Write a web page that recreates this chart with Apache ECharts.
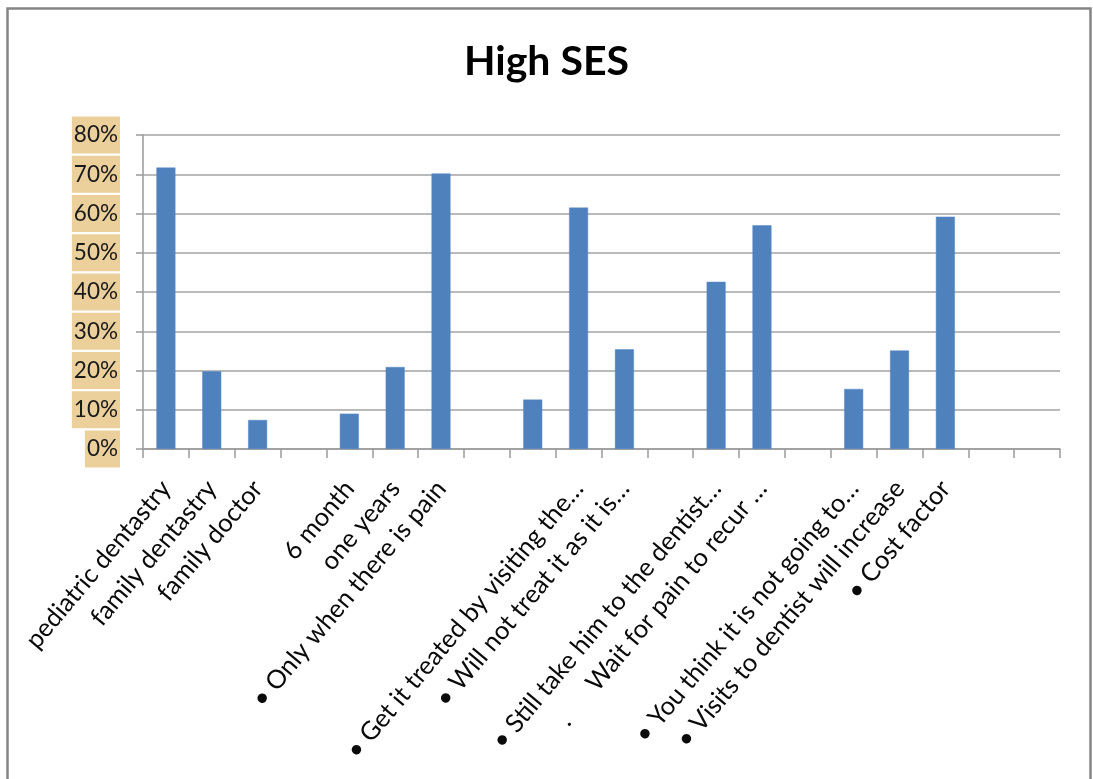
<!DOCTYPE html>
<html>
<head>
<meta charset="utf-8">
<title>High SES</title>
<script src="https://cdn.jsdelivr.net/npm/echarts@6/dist/echarts.min.js"></script>
<style>
  html, body { margin: 0; padding: 0; background: #ffffff; }
  #chart { width: 1093px; height: 779px; }
</style>
</head>
<body>
<div id="chart"></div>
<script>
// Answer categories (blank slots separate the question groups)
const categories = [
  'pediatric dentastry',
  'family dentastry',
  'family doctor',
  '',
  '6 month',
  'one years',
  '\u2022 Only when there is pain',
  '',
  '',
  '\u2022 Get it treated by visiting the\u2026',
  '\u2022 Will not treat it as it is\u2026',
  '',
  '\u2022 Still take him to the dentist\u2026',
  '.      Wait for pain to recur \u2026',
  '',
  '\u2022 You think it is not going to\u2026',
  '\u2022 Visits to dentist will increase',
  '\u2022 Cost factor',
  '',
  ''
];

// Share of respondents, percent
const values = [
  71.7, 19.8, 7.4, null,
  9.0, 20.9, 70.2, null,
  12.6, 61.5, 25.4, null,
  42.6, 57.0, null,
  15.3, 25.1, 59.2, null, null
];

// Value axis ticks
const yMin = 0;
const yMax = 80;
const yStep = 10;

const chart = echarts.init(document.getElementById('chart'), null, { renderer: 'canvas' });

chart.setOption({
  animation: false,
  backgroundColor: '#ffffff',
  title: {
    text: 'High SES',
    left: 'center',
    top: 36,
    textStyle: {
      fontFamily: 'Lato',
      fontWeight: 'bold',
      fontSize: 41,
      color: '#000000'
    }
  },
  graphic: [
    {
      type: 'rect',
      left: 5,
      top: 6,
      shape: { width: 1083, height: 820 },
      style: { fill: 'none', stroke: '#858585', lineWidth: 2.5 },
      silent: true
    }
  ],
  grid: {
    left: 143,
    top: 135,
    width: 917,
    height: 314,
    containLabel: false
  },
  xAxis: {
    type: 'category',
    data: categories,
    boundaryGap: true,
    axisLine: { show: true, lineStyle: { color: '#9a9a9a', width: 1.5 } },
    axisTick: { show: true, length: 9, lineStyle: { color: '#9a9a9a', width: 1.5 } },
    axisLabel: {
      interval: 0,
      rotate: 50,
      margin: 35,
      fontFamily: 'Lato',
      fontSize: 25.5,
      color: '#0a0a0a'
    },
    splitLine: { show: false }
  },
  yAxis: {
    type: 'value',
    min: yMin,
    max: yMax,
    interval: yStep,
    axisLine: { show: true, lineStyle: { color: '#9a9a9a', width: 1.5 } },
    axisTick: { show: true, length: 7, lineStyle: { color: '#9a9a9a', width: 1.5 } },
    axisLabel: {
      formatter: '{value}%',
      margin: 23,
      fontFamily: 'Lato',
      fontSize: 22.5,
      lineHeight: 27,
      color: '#1a1a1a',
      backgroundColor: '#ecd09b',
      padding: [5, 2, 5, 2]
    },
    splitLine: { show: true, lineStyle: { color: '#a3a3a3', width: 1.5 } }
  },
  series: [
    {
      type: 'bar',
      data: values,
      barWidth: 19,
      itemStyle: {
        color: '#4f81bd',
        borderColor: '#5a8ac6',
        borderWidth: 0.5
      }
    }
  ]
});
</script>
</body>
</html>
